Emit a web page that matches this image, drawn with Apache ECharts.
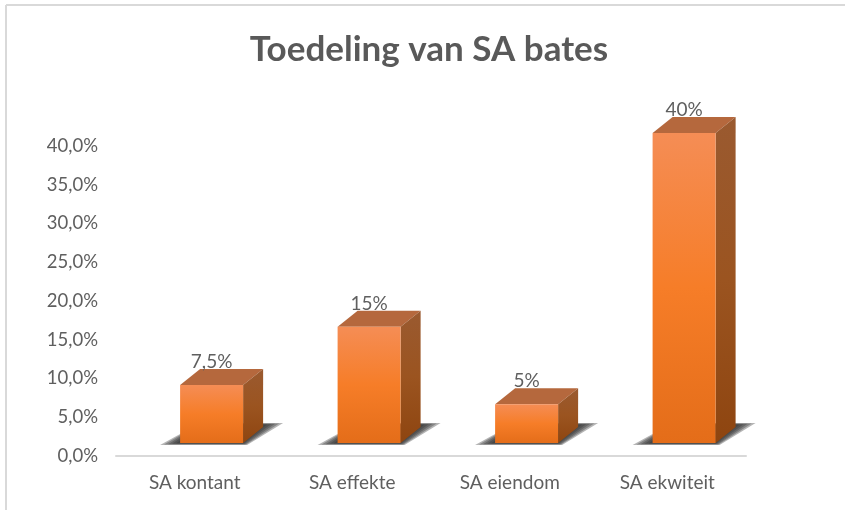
<!DOCTYPE html>
<html>
<head>
<meta charset="utf-8">
<title>Toedeling van SA bates</title>
<script src="https://cdn.jsdelivr.net/npm/echarts@6/dist/echarts.min.js"></script>
<style>
  html, body { margin: 0; padding: 0; background: #fff; }
  #main { width: 845px; height: 510px; }
</style>
</head>
<body>
<div id="main"></div>
<script>
var categories = ['SA kontant', 'SA effekte', 'SA eiendom', 'SA ekwiteit'];
var values = [7.5, 15, 5, 40];
var valueLabels = ['7,5%', '15%', '5%', '40%'];

var chartDom = document.getElementById('main');
var myChart = echarts.init(chartDom);
var option;

function vGrad(c0, c1, c2) {
  return new echarts.graphic.LinearGradient(0, 0, 0, 1, [
    { offset: 0, color: c0 },
    { offset: 0.5, color: c1 },
    { offset: 1, color: c2 }
  ]);
}

// fake 3d box: front face + top + side + floor shadow
function renderBox(params, api) {
  var i = api.value(0);
  var base = api.coord([i, 0]);
  var top = api.coord([i, api.value(1)]);
  var band = api.size([1, 0])[0];
  var w = band * 0.4;
  var lift = 13;
  var dx = 20;
  var dy = 16;
  var x0 = base[0] + band * 0.107 - w / 2;
  var x1 = x0 + w;
  var y0 = base[1] - lift;
  var y1 = top[1] - lift;
  var children = [];

  // soft shadow, stacked so that it gets darker towards the box
  for (var k = 0; k < 5; k++) {
    children.push({
      type: 'polygon',
      shape: {
        points: [
          [x0 - 20 + k * 4, y0 + 2 - k * 0.4],
          [x1 + 4 - k, y0 + 2 - k * 0.4],
          [x1 + dx + 20 - k * 4, y0 - dy - 4 + k * 0.4],
          [x0 + dx, y0 - dy - 4 + k * 0.4]
        ]
      },
      style: { fill: 'rgba(50,50,50,0.36)' }
    });
  }

  children.push(
    {
      type: 'polygon',
      shape: { points: [[x0, y1], [x0 + dx, y1 - dy], [x1 + dx, y1 - dy], [x1, y1]] },
      style: { fill: '#B5683D' }
    },
    {
      type: 'polygon',
      shape: { points: [[x1, y1], [x1 + dx, y1 - dy], [x1 + dx, y0 - dy], [x1, y0]] },
      style: { fill: vGrad('#9A5A30', '#9B5420', '#8E4510') }
    },
    {
      type: 'rect',
      shape: { x: x0, y: y1, width: w, height: y0 - y1 },
      style: { fill: vGrad('#F58D55', '#F67D28', '#E46D19') }
    },
    {
      type: 'text',
      style: {
        text: valueLabels[i],
        x: (x0 + x1) / 2,
        y: y1 - 23,
        align: 'center',
        verticalAlign: 'middle',
        fill: '#5f5f5f',
        font: '19px Lato'
      }
    }
  );

  return { type: 'group', children: children };
}

option = {
  animation: false,
  backgroundColor: '#fff',
  title: {
    text: 'Toedeling van SA bates',
    left: 424,
    top: 27,
    textAlign: 'center',
    textStyle: { fontFamily: 'Lato', fontSize: 35, fontWeight: 'bold', color: '#595959' }
  },
  grid: { left: 116, right: 99, top: 146, bottom: 54 },
  xAxis: {
    type: 'category',
    data: categories,
    axisTick: { show: false },
    axisLine: { lineStyle: { color: '#D9D9D9', width: 2 } },
    axisLabel: { color: '#5f5f5f', fontFamily: 'Lato', fontSize: 19, margin: 17 }
  },
  yAxis: {
    type: 'value',
    min: 0,
    max: 40,
    interval: 5,
    axisLine: { show: false },
    axisTick: { show: false },
    splitLine: { show: false },
    axisLabel: {
      color: '#5f5f5f',
      fontFamily: 'Lato',
      fontSize: 18.5,
      margin: 18,
      padding: [2, 0, 0, 0],
      formatter: function (v) { return v.toFixed(1).replace('.', ',') + '%'; }
    }
  },
  graphic: [
    { type: 'line', shape: { x1: 6, y1: 5, x2: 845, y2: 5 }, style: { stroke: '#D9D9D9', lineWidth: 2 } },
    { type: 'line', shape: { x1: 6, y1: 5, x2: 6, y2: 510 }, style: { stroke: '#D9D9D9', lineWidth: 2 } }
  ],
  series: [
    {
      type: 'custom',
      renderItem: renderBox,
      encode: { x: 0, y: 1 },
      data: values.map(function (v, i) { return [i, v]; })
    }
  ]
};

myChart.setOption(option);
</script>
</body>
</html>
